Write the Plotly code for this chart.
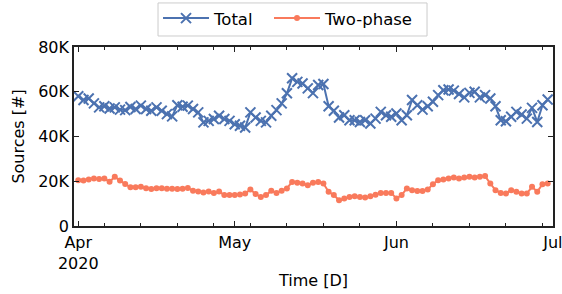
import pandas as pd
import plotly.graph_objects as go

start_date = "2020-04-01"
n_days = 91
total_k = [58.0, 56.3, 57.0, 54.8, 53.0, 53.5, 52.5, 53.0, 52.0, 51.8,
           53.2, 52.3, 53.8, 52.3, 51.5, 53.0, 51.5, 50.0, 49.0, 54.0,
           53.3, 53.8, 52.3, 50.8, 46.3, 47.0, 47.8, 49.3, 47.8, 47.0,
           45.5, 44.8, 44.0, 50.8, 48.5, 47.0, 46.3, 49.3, 51.8, 54.8,
           59.3, 66.0, 64.4, 63.7, 61.5, 59.4, 63.0, 63.5, 53.5, 51.5,
           48.5, 49.5, 47.3, 47.3, 46.5, 47.3, 45.8, 48.0, 51.0, 49.5,
           48.8, 50.3, 47.3, 49.5, 56.3, 54.0, 52.0, 53.5, 55.5, 58.5,
           60.7, 61.0, 60.5, 59.0, 57.5, 59.5, 60.0, 57.5, 58.5, 57.0,
           53.5, 47.3, 46.8, 48.8, 51.0, 49.8, 48.0, 52.8, 46.5, 54.0, 56.5]
twophase_k = [20.5, 20.3, 20.8, 21.2, 21.0, 21.2, 19.8, 22.0, 20.3, 18.8,
              17.3, 17.3, 17.5, 16.9, 16.5, 16.9, 16.9, 16.6, 16.6, 16.5,
              16.6, 17.0, 15.7, 15.4, 15.0, 15.4, 14.7, 15.4, 13.8, 13.8,
              13.8, 14.1, 14.5, 16.3, 14.3, 13.0, 13.8, 15.7, 14.8, 15.7,
              16.8, 19.7, 19.3, 19.0, 18.2, 19.3, 19.7, 19.0, 15.3, 13.8,
              11.5, 12.3, 13.0, 13.3, 13.0, 12.7, 13.3, 14.0, 14.8, 14.8,
              14.8, 12.3, 13.8, 16.8, 16.0, 15.6, 15.6, 16.3, 18.7, 20.5,
              20.8, 21.2, 21.7, 21.2, 21.7, 22.0, 21.7, 22.0, 22.3, 19.0,
              16.0, 14.8, 14.5, 16.0, 15.3, 14.5, 14.5, 17.5, 15.3, 18.7, 19.0]
month_ticks = ["2020-04-01", "2020-05-01", "2020-06-01", "2020-07-01"]
month_labels = ["Apr<br>2020", "May", "Jun", "Jul"]
y_ticks = [0, 20000, 40000, 60000, 80000]
y_labels = ["0", "20K", "40K", "60K", "80K"]

dates = pd.date_range(start_date, periods=n_days, freq="D")
total = [v * 1000 for v in total_k]
twophase = [v * 1000 for v in twophase_k]
mondays = pd.date_range("2020-04-06", "2020-06-29", freq="7D")

BLUE = "#4c72b0"
ORANGE = "#f97a5c"
FONT = "DejaVu Sans"

fig = go.Figure()
fig.add_trace(go.Scatter(
    x=dates, y=total, name="Total", mode="lines+markers", legend="legend2",
    line=dict(color=BLUE, width=2),
    marker=dict(symbol="x-thin", size=10, line=dict(color=BLUE, width=2), color=BLUE),
))
fig.add_trace(go.Scatter(
    x=dates, y=twophase, name="Two-phase", mode="lines+markers", legend="legend3",
    line=dict(color=ORANGE, width=2),
    marker=dict(symbol="circle", size=6, color=ORANGE),
))

axis_common = dict(
    showline=True, linecolor="#222", linewidth=1.5, mirror="allticks",
    ticks="inside", tickcolor="#222", ticklen=5, tickwidth=1,
    showgrid=False, zeroline=False, automargin=False,
    tickfont=dict(family=FONT, size=16, color="black"),
)

fig.update_xaxes(
    **axis_common,
    type="date",
    range=["2020-03-31 04:20", "2020-07-01 00:30"],
    tickmode="array", tickvals=month_ticks, ticktext=month_labels,
    ticklabelstandoff=1, ticklabeloverflow="allow",
    minor=dict(tickmode="array", tickvals=list(mondays), ticks="inside",
               ticklen=3, tickcolor="#222", tickwidth=1),
    title=dict(text="Time [D]", font=dict(family=FONT, size=16, color="black"), standoff=3),
)
fig.update_yaxes(
    **axis_common,
    range=[0, 80000],
    tickmode="array", tickvals=y_ticks, ticktext=y_labels,
    title=dict(text="Sources [#]", font=dict(family=FONT, size=16, color="black"), standoff=10),
)

leg_common = dict(
    orientation="h", yanchor="middle", y=1.16, xanchor="left",
    bgcolor="rgba(0,0,0,0)", borderwidth=0, itemwidth=46,
    font=dict(family=FONT, size=16.5, color="black"),
)

fig.update_layout(
    width=562, height=294,
    margin=dict(l=74, r=9, t=47, b=68, autoexpand=False),
    paper_bgcolor="white", plot_bgcolor="white",
    font=dict(family=FONT, size=16, color="black"),
    legend2=dict(x=0.1754, **leg_common),
    legend3=dict(x=0.4071, **leg_common),
    shapes=[dict(type="rect", xref="paper", yref="paper",
                 x0=0.1754, x1=0.737, y0=1.0615, y1=1.246,
                 line=dict(color="#cccccc", width=1), fillcolor="rgba(0,0,0,0)", layer="below")],
)

fig.write_html("out.html", config={"displayModeBar": False},
               post_script="document.body.style.margin='0';")
